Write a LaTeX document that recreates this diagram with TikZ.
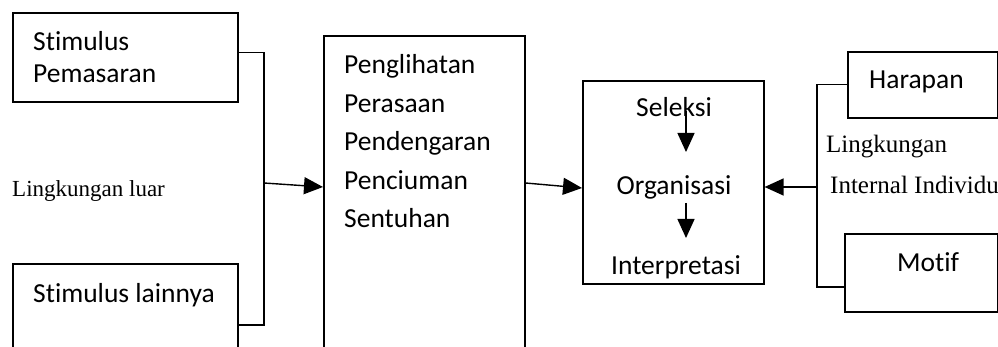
\documentclass[tikz,border=0pt]{standalone}
\usepackage{fontspec}
\setmainfont[Ligatures=NoCommon]{Carlito}
\newfontfamily\serifnote{Liberation Serif}
\usetikzlibrary{
  arrows.meta}

\tikzset{
  kotak/.style={draw, line width=1.6pt, inner sep=0pt, anchor=north west},
  isi/.style={font=\fontsize{27.5}{31}\selectfont, inner sep=0pt},
  catatan/.style={font=\serifnote\fontsize{23}{26}\selectfont, inner sep=0pt, anchor=base west},
  garis/.style={line width=1.4pt},
  panah/.style={garis, -{Triangle[length=19pt,width=17pt]}}
}

\begin{document}
\begin{tikzpicture}[x=1pt,y=-1pt]
\useasboundingbox (0,0) rectangle (998,347);
\clip (0,0) rectangle (998,347);
% kotak
\node[kotak, minimum width=225pt, minimum height=89pt] (pemasaran) at (12,12) {};
\node[kotak, minimum width=225pt, minimum height=122pt] (lainnya) at (12,263) {};
\node[kotak, minimum width=201pt, minimum height=330pt] (indera) at (323,35) {};
\node[kotak, minimum width=181pt, minimum height=203pt] (proses) at (582,80) {};
\node[kotak, minimum width=150pt, minimum height=66pt] (harapan) at (847,51) {};
\node[kotak, minimum width=153pt, minimum height=78pt] (motif) at (844,233) {};
% teks
\node[isi, anchor=base west] (t-stimulus) at (33,51) {Stimulus};
\node[isi, anchor=base west] (t-pemasaran) at (33,83) {Pemasaran};
\node[isi, anchor=base west] (t-lainnya) at (33,302) {Stimulus lainnya};
\foreach \teks [count=\i from 0] in {Penglihatan,Perasaan,Pendengaran,Penciuman,Sentuhan}
  \node[isi, anchor=base west] (indera-\i) at (344,{74+38.5*\i}) {\teks};
\node[isi, anchor=base] (seleksi) at (674,117) {Seleksi};
\node[isi, anchor=base] (organisasi) at (674,195) {Organisasi};
\node[isi, anchor=base] (interpretasi) at (676,274) {Interpretasi};
\node[isi, anchor=base west] (t-harapan) at (869,89) {Harapan};
\node[isi, anchor=base west] (t-motif) at (897,272) {Motif};
\node[catatan] (luar) at (12,197) {Lingkungan luar};
\node[catatan, font=\serifnote\fontsize{25}{28}\selectfont] (lingk) at (826,153) {Lingkungan};
\node[catatan, font=\serifnote\fontsize{25}{28}\selectfont] (internal) at (830,194) {Internal Individu};
% penghubung
\coordinate (kiri) at (264,183);
\coordinate (kanan) at (817,187);
\draw[garis] ([yshift=5pt]pemasaran.east) -| (kiri) |- (lainnya.east);
\draw[panah] (kiri) -- (indera.west |- 0,187);
\draw[panah] (indera.east |- 0,183) -- (proses.west |- 0,188);
\draw[garis] (harapan.west) -| (kanan) |- ([yshift=-14pt]motif.west);
\draw[panah] (kanan) -- (proses.east |- kanan);
\draw[panah] ([xshift=12pt,yshift=6pt]seleksi.base) -- ([xshift=12pt,yshift=43pt]organisasi.base);
\draw[panah] ([xshift=12pt,yshift=-8pt]organisasi.base) -- ([xshift=10pt,yshift=36pt]interpretasi.base);
\end{tikzpicture}
\end{document}
